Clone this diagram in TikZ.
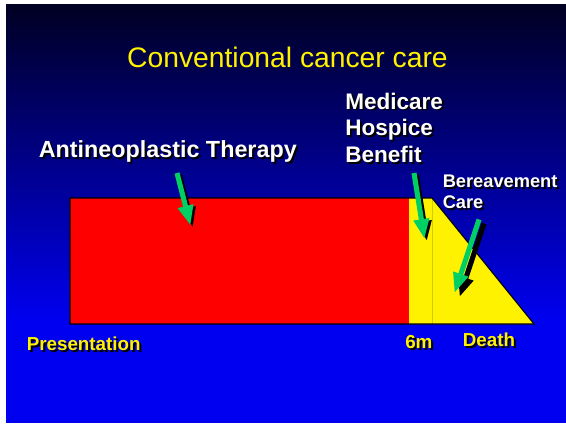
\documentclass[tikz,border=0pt]{standalone}
\usepackage{fontspec}
\setmainfont{Liberation Sans}
\usetikzlibrary{arrows.meta}

\definecolor{slidegreen}{RGB}{0,208,100}
\definecolor{slidetop}{RGB}{0,0,35}
\definecolor{slideblue}{RGB}{0,0,240}
\definecolor{hospiceline}{RGB}{205,205,0}

\tikzset{
  pointer/.style={line width=3.8pt,-{Triangle[length=15pt,width=11pt]},slidegreen},
  pointer shadow/.style={line width=3.8pt,-{Triangle[length=15pt,width=11pt]},black},
  lbl/.style={inner sep=0pt,anchor=base west,text=white,font=\bfseries},
  tick/.style={inner sep=0pt,anchor=base west,text=yellow,font=\bfseries\fontsize{14.1pt}{17pt}\selectfont},
}

% label with a black drop shadow: #1 name, #2 style, #3 position, #4 text
\newcommand{\droplabel}[4]{%
  \node[#2,text=black,xshift=1.5pt,yshift=-1.5pt] (#1-sh) at #3 {#4};
  \node[#2] (#1) at #3 {#4};
}

\begin{document}
\begin{tikzpicture}[x=0.75pt,y=0.75pt,yscale=-1,xscale=1]
\useasboundingbox (0,0) rectangle (566,424);
%Shape: Background
\fill[top color=slidetop,bottom color=slideblue] (6,5) rectangle (566.5,320);
\fill[slideblue] (6,319.5) rectangle (566.5,423);

%Shape: Timeline
\fill[yellow] (409,198) -- (432,198) -- (534,324) -- (409,324) -- cycle;
\draw[hospiceline,line width=0.4pt] (432,198.5) -- (432,323.5);
\fill[red] (70,198) rectangle (409,324);
\draw[black,line width=0.8pt] (70,198) -- (432,198) -- (534,324) -- (70,324) -- cycle;

% Text Node
\node[inner sep=0pt,anchor=base,text=yellow,font=\fontsize{21.2pt}{25pt}\selectfont] (title) at (287.5,67.7) {Conventional cancer care};

% Text Node
\droplabel{therapy}{lbl,font=\bfseries\fontsize{17.5pt}{21pt}\selectfont}{(38.5,157)}{Antineoplastic Therapy}
\droplabel{medicare}{lbl,font=\bfseries\fontsize{16.9pt}{20pt}\selectfont}{(345,109)}{Medicare}
\droplabel{hospice}{lbl,font=\bfseries\fontsize{16.9pt}{20pt}\selectfont}{(345,135.5)}{Hospice}
\droplabel{benefit}{lbl,font=\bfseries\fontsize{16.9pt}{20pt}\selectfont}{(345,162)}{Benefit}
\droplabel{bereave}{lbl,font=\bfseries\fontsize{13.7pt}{16pt}\selectfont}{(442.5,187)}{Bereavement}
\droplabel{care}{lbl,font=\bfseries\fontsize{13.7pt}{16pt}\selectfont}{(442.5,208)}{Care}

% Text Node
\droplabel{presentation}{tick}{(26.5,350)}{Presentation}
\droplabel{sixm}{tick}{(405,348)}{6m}
\droplabel{death}{tick}{(462.5,346)}{Death}

%Arrows
\coordinate (therapy-tail) at (177,173);
\coordinate (therapy-tip) at (190.5,225.5);
\coordinate (hospice-tail) at (414,173);
\coordinate (hospice-tip) at (424.5,239);
\coordinate (bereave-tail) at (479,219.5);
\coordinate (bereave-tip) at (454.5,293);

\draw[pointer shadow,transform canvas={xshift=1.8pt,yshift=-1.5pt}] (therapy-tail) -- (therapy-tip);
\draw[pointer] (therapy-tail) -- (therapy-tip);
\draw[pointer shadow,transform canvas={xshift=1.8pt,yshift=-1.5pt}] (hospice-tail) -- (hospice-tip);
\draw[pointer] (hospice-tail) -- (hospice-tip);
\draw[pointer shadow,transform canvas={xshift=3.8pt,yshift=-3pt}] (bereave-tail) -- (bereave-tip);
\draw[pointer] (bereave-tail) -- (bereave-tip);
\end{tikzpicture}
\end{document}
